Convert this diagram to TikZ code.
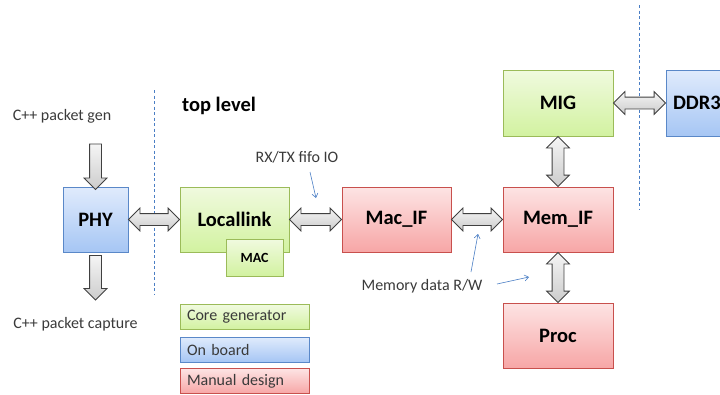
\documentclass[tikz,border=0pt]{standalone}
\usepackage{fontspec}
\setmainfont{Carlito}
\usetikzlibrary{calc,shapes.arrows,shadows,arrows.meta}

\definecolor{greenline}{HTML}{9BBB59}
\definecolor{greentop}{HTML}{F0FADF}
\definecolor{greenbot}{HTML}{D2F2A0}
\definecolor{blueline}{HTML}{5A88C8}
\definecolor{bluetop}{HTML}{E0EBFC}
\definecolor{bluebot}{HTML}{A6C6F4}
\definecolor{redline}{HTML}{C8504D}
\definecolor{redtop}{HTML}{FDE4E4}
\definecolor{redbot}{HTML}{F7A6A6}
\definecolor{hintblue}{HTML}{4A7EC4}
\definecolor{textgray}{HTML}{3A3A3A}

\tikzset{
  block/.style={draw, line width=1pt, minimum width=110pt, minimum height=65pt,
    font=\fontsize{20.5}{24}\selectfont\bfseries,
    drop shadow={opacity=0.25, shadow xshift=1.2pt, shadow yshift=-1.2pt}},
  coregen/.style={block, draw=greenline, top color=greentop, bottom color=greenbot},
  onboard/.style={block, draw=blueline, top color=bluetop, bottom color=bluebot},
  manual/.style={block, draw=redline, top color=redtop, bottom color=redbot},
  legend/.style={minimum width=129pt, minimum height=25pt, inner xsep=7pt,
    text width=115pt, align=left, font=\fontsize{16}{19}\selectfont, text=textgray},
  bus/.style={double arrow, draw=black!75, line width=0.8pt, top color=gray!8,
    bottom color=gray!40, inner sep=5.5pt, double arrow head extend=5.5pt, outer sep=0pt},
  feed/.style={single arrow, draw=black!75, line width=0.8pt, top color=gray!8,
    bottom color=gray!40, inner sep=5.5pt, single arrow head extend=5.5pt, outer sep=0pt},
  note/.style={font=\fontsize{16}{19}\selectfont, text=textgray},
  hint/.style={draw=hintblue, line width=0.6pt, -{Straight Barb[length=4pt,width=6pt]}},
  divider/.style={draw=hintblue, line width=0.8pt, dash pattern=on 3pt off 2.5pt},
}

% block arrow between two anchors
\newcommand\blockarrow[3][bus]{%
  \path let \p1=($(#3)-(#2)$), \n1={veclen(\x1,\y1)} in
    (#2) -- (#3) node[#1, midway, sloped, allow upside down, minimum height=\n1] {};}

\begin{document}
\begin{tikzpicture}[x=1pt,y=-1pt]
  \useasboundingbox (0,0) rectangle (720,394);

  % borders of the design
  \draw [divider] (154,90) -- (154,295);
  \draw [divider] (639,5) -- (639,210);

  \node [note] (gen) at (62,116) {C++ packet gen};
  \node [note] (capture) at (75.5,324) {C++ packet capture};
  \node [font=\fontsize{20.5}{24}\selectfont\bfseries] (top) at (219,106) {top level};

  % blocks
  \node [onboard, minimum width=65pt] (phy) at (95.5,219.5) {PHY};
  \node [coregen, minimum width=109pt] (ll) at (234.5,219.5) {Locallink};
  \node [coregen, minimum width=57pt, minimum height=37pt,
         font=\fontsize{14}{16}\selectfont\bfseries] (mac) at (254.5,257.5) {MAC};
  \node [manual, minimum width=109pt] (macif) at (396.5,219.5) {Mac\_IF};
  \node [manual] (memif) at (558,219.5) {Mem\_IF};
  \node [coregen, minimum height=66pt] (mig) at (558,103) {MIG};
  \node [onboard, minimum height=66pt, text width=96pt, inner xsep=7pt, align=left] (ddr) at (721,103) {DDR3};
  \node [manual] (proc) at (558,335.5) {Proc};

  % legend
  \node [legend, draw=greenline, top color=greentop, bottom color=greenbot] (lgcore) at (244.5,317) {Core generator};
  \node [legend, draw=blueline, top color=bluetop, bottom color=bluebot] (lgboard) at (244.5,349.5) {On board};
  \node [legend, draw=redline, top color=redtop, bottom color=redbot] (lgmanual) at (244.5,381) {Manual design};

  % data paths
  \coordinate (genend) at (95.5,141);
  \coordinate (capend) at (95.5,297);
  \blockarrow[feed]{genend}{phy.north}
  \blockarrow[feed]{phy.south}{capend}
  \blockarrow{phy.east}{ll.west}
  \blockarrow{ll.east}{macif.west}
  \blockarrow{macif.east}{memif.west}
  \blockarrow{mig.east}{ddr.west}
  \blockarrow{mig.south}{memif.north}
  \blockarrow{memif.south}{proc.north}

  % notes
  \node [note] (fifo) at (297,157) {RX/TX fifo IO};
  \node [note] (memrw) at (422,286) {Memory data R/W};
  \coordinate (fifotip) at (316,198);
  \coordinate (rwtip1) at (478,234);
  \coordinate (rwtip2) at (529,277);
  \draw [hint] (310,172) -- (fifotip);
  \draw [hint] (471,272) -- (rwtip1);
  \draw [hint] (497,284) -- (rwtip2);
\end{tikzpicture}
\end{document}
